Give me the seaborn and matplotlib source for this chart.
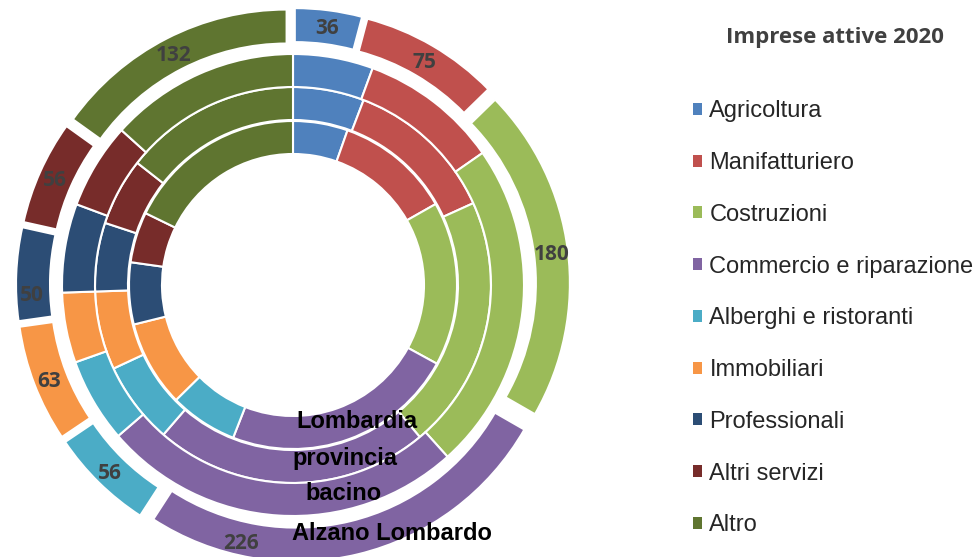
import numpy as np
import matplotlib
matplotlib.use("Agg")
import matplotlib.pyplot as plt
import seaborn as sns
from matplotlib.patches import Patch

# Imprese attive 2020 per settore
categories = ["Agricoltura", "Manifatturiero", "Costruzioni", "Commercio e riparazione",
              "Alberghi e ristoranti", "Immobiliari", "Professionali", "Altri servizi", "Altro"]
alzano = [36, 75, 180, 226, 56, 63, 50, 56, 132]
# quote percentuali
bacino = [5.6, 9.7, 23.0, 25.3, 5.9, 4.9, 6.2, 6.0, 13.3]
provincia = [5.8, 12.4, 20.7, 22.4, 6.7, 6.4, 5.6, 5.5, 14.4]
lombardia = [5.4, 11.4, 16.2, 23.0, 6.7, 8.5, 6.1, 5.0, 17.8]

colors = ["#4F81BD", "#C0504D", "#9BBB59", "#8064A2", "#4BACC6",
          "#F79646", "#2C4D75", "#772C2A", "#5F7530"]

sns.set_theme(style="white")
plt.rcParams["font.family"] = ["Liberation Sans", "DejaVu Sans"]
palette = sns.color_palette(colors)

fig = plt.figure(figsize=(9.8, 5.57), dpi=100)
ax = fig.add_axes([0, 0, 1, 1])

edge = dict(edgecolor="white", linewidth=1.5)

# anelli interni: Lombardia (interno), provincia, bacino
for values, r in [(lombardia, 164), (provincia, 198), (bacino, 231)]:
    ax.pie(values, radius=r, colors=palette, startangle=90, counterclock=False,
           wedgeprops=dict(width=33, **edge), normalize=True)

# anello esterno esploso: Alzano Lombardo (explode in unita' dati = pixel)
ax.pie(alzano, radius=263, colors=palette, startangle=90, counterclock=False,
       explode=[14] * len(alzano), wedgeprops=dict(width=34, **edge))

# etichette valori sull'anello esterno
frac_pos = [0.5, 0.5, 0.5, 0.77, 0.5, 0.5, 0.3, 0.5, 0.5]
total = sum(alzano)
start = 0.0
for v, f in zip(alzano, frac_pos):
    ang = np.deg2rad((start + f * v) / total * 360)
    ax.text(261 * np.sin(ang), 261 * np.cos(ang), str(v), ha="center", va="center_baseline",
            fontsize=15, fontweight="bold", color="#404040", family="Open Sans")
    start += v

# nomi degli anelli
ring_txt = dict(fontsize=17, fontweight="bold", color="black", ha="center", va="center")
ax.text(64, -137, "Lombardia", **ring_txt)
ax.text(52, -173, "provincia", **ring_txt)
ax.text(51, -208, "bacino", **ring_txt)
ax.text(99, -248, "Alzano Lombardo", **ring_txt)

ax.set_xlim(-293, 687)
ax.set_ylim(-272, 285)
ax.set_aspect("equal")
ax.axis("off")

handles = [Patch(facecolor=c, edgecolor="none") for c in palette]
fig.legend(handles, categories, loc="upper left", bbox_to_anchor=(0.707, 0.82),
           frameon=False, fontsize=17, handlelength=0.4, handleheight=0.4,
           handletextpad=0.3, labelspacing=1.26, borderpad=0, borderaxespad=0)
fig.text(0.852, 0.933, "Imprese attive 2020", ha="center", va="center",
         fontsize=16, fontweight="bold", color="#404040", family="Open Sans")

fig.savefig("out.png", dpi=100)
